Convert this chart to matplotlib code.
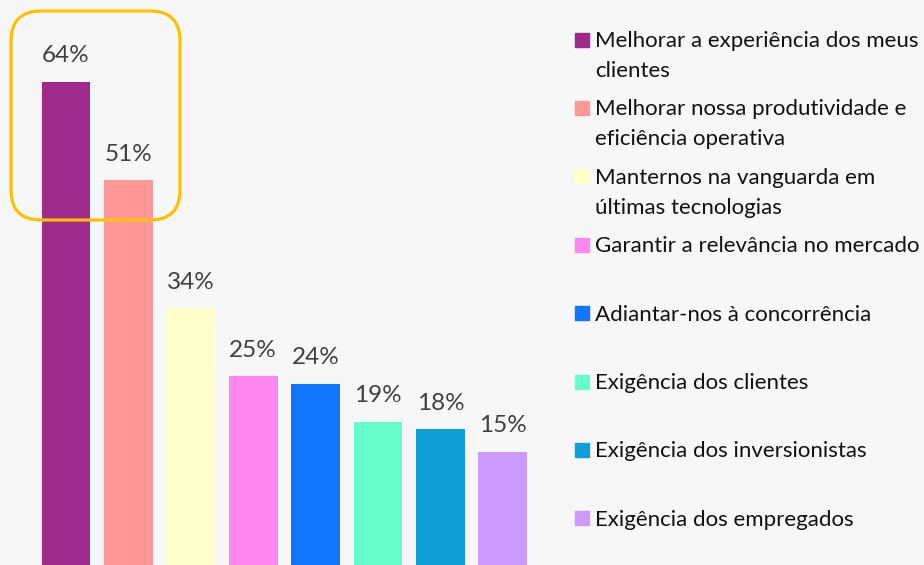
import matplotlib.pyplot as plt
from matplotlib.patches import FancyBboxPatch, Rectangle

labels = [
    "Melhorar a experiência dos meus\nclientes",
    "Melhorar nossa produtividade e\neficiência operativa",
    "Manternos na vanguarda em\núltimas tecnologias",
    "Garantir a relevância no mercado",
    "Adiantar-nos à concorrência",
    "Exigência dos clientes",
    "Exigência dos inversionistas",
    "Exigência dos empregados",
]
values = [64, 51, 34, 25, 24, 19, 18, 15]
colors = ["#9E2A8C", "#FF9999", "#FFFFCC", "#FF88EE",
          "#1177FF", "#66FFCC", "#119ED6", "#CC99FF"]

bg = "#F7F7F7"
plt.rcParams['font.family'] = ['Lato', 'DejaVu Sans']

fig = plt.figure(figsize=(9.24, 5.65), dpi=100, facecolor=bg)
ax = fig.add_axes([0, 0, 560 / 924, 1])
ax.set_facecolor(bg)

x = list(range(len(values)))
bars = ax.bar(x, values, width=0.785, color=colors)
ax.set_xlim(-66 / 62.4, (560 - 66) / 62.4)
ax.set_ylim(0, 565 / 7.55)
for b, v in zip(bars, values):
    ax.annotate(f"{v}%", (b.get_x() + b.get_width() / 2, v),
                xytext=(0, 14), textcoords="offset points",
                ha="center", va="baseline", fontsize=17.5, color="#404040")
ax.axis("off")

# legend drawn by hand, evenly spaced rows
H = 565
for i, (lab, c) in enumerate(zip(labels, colors)):
    yc = 39.5 + i * 68.4
    fig.patches.append(Rectangle((575 / 924, 1 - (yc + 7) / H), 14 / 924, 14 / H,
                                 transform=fig.transFigure, color=c))
    for j, line in enumerate(lab.split("\n")):
        fig.text(595 / 924, 1 - (yc + 7.5 + 30 * j) / H, line, ha="left",
                 va="baseline", fontsize=16, color="#111111")

# highlight box around the two top bars
box = FancyBboxPatch((11 / 100, (H - 220) / 100), 169 / 100, 209 / 100,
                     boxstyle="round,pad=0,rounding_size=0.3",
                     transform=fig.dpi_scale_trans, fill=False,
                     edgecolor="#FFC000", linewidth=2.3)
fig.patches.append(box)

fig.savefig("out.png", dpi=100, facecolor=bg)
